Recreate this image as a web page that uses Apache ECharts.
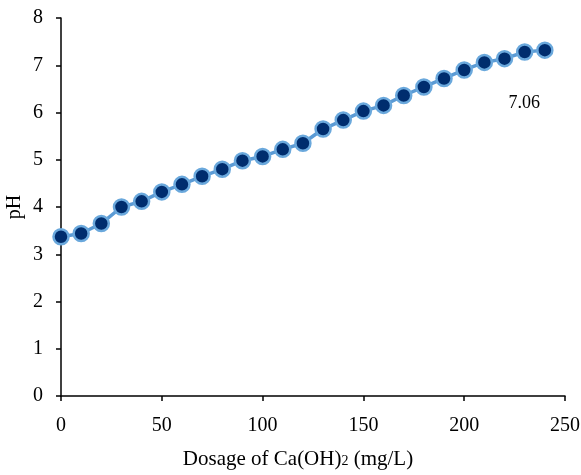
<!DOCTYPE html>
<html><head><meta charset="utf-8">
<script src="https://cdn.jsdelivr.net/npm/echarts@6/dist/echarts.min.js"></script>
<style>html,body{margin:0;padding:0;background:#fff}#c{width:581px;height:475px}</style>
</head><body><div id="c"></div>
<script>
const dosage = [0,10,20,30,40,50,60,70,80,90,100,110,120,130,140,150,160,170,180,190,200,210,220,230,240];
const pH = [3.37,3.44,3.65,4.0,4.12,4.32,4.48,4.65,4.80,4.98,5.07,5.22,5.35,5.65,5.84,6.03,6.15,6.36,6.54,6.72,6.90,7.06,7.14,7.28,7.32];
const labelIndex = 21;
const xTicks = [0,50,100,150,200,250];
const yTicks = [0,1,2,3,4,5,6,7,8];
const font = 'Liberation Serif';
const chart = echarts.init(document.getElementById('c'));
chart.setOption({
  animation:false,
  grid:{left:61,right:16,top:18,bottom:79,containLabel:false,outerBoundsMode:'none'},
  xAxis:{type:'value',min:0,max:250,interval:50,
    name:'{a|Dosage of Ca(OH)}{s|2}{a| (mg/L)}',nameLocation:'middle',nameGap:53,nameMoveOverlap:false,
    nameTextStyle:{padding:[0,30,0,0],rich:{a:{fontFamily:font,fontSize:21,color:'#000'},s:{fontFamily:font,fontSize:14,color:'#000',padding:[4,0,0,0]}}},
    axisLine:{lineStyle:{color:'#000',width:1.5}},axisTick:{show:true,length:5,lineStyle:{color:'#000',width:1.5}},
    axisLabel:{fontFamily:font,fontSize:20,color:'#000',margin:20},splitLine:{show:false}},
  yAxis:{type:'value',min:0,max:8,interval:1,name:'pH',nameLocation:'middle',nameGap:36,nameRotate:90,nameMoveOverlap:false,
    nameTextStyle:{fontFamily:font,fontSize:20,color:'#000'},
    axisLine:{show:true,lineStyle:{color:'#000',width:1.5}},axisTick:{show:true,length:5,lineStyle:{color:'#000',width:1.5}},
    axisLabel:{fontFamily:font,fontSize:20,color:'#000',margin:18},splitLine:{show:false}},
  series:[{type:'line',data:dosage.map((d,i)=>({value:[d,pH[i]],label:{show:i===labelIndex}})),
    lineStyle:{color:'#5b9bd5',width:3.5},symbol:'circle',symbolSize:15,
    itemStyle:{color:'#002d6e',borderColor:'#6aa8dc',borderWidth:2.5},
    label:{show:false,position:'inside',offset:[40,41],fontFamily:font,fontSize:18,color:'#000',formatter:p=>p.value[1].toFixed(2)}}]
});
</script></body></html>
